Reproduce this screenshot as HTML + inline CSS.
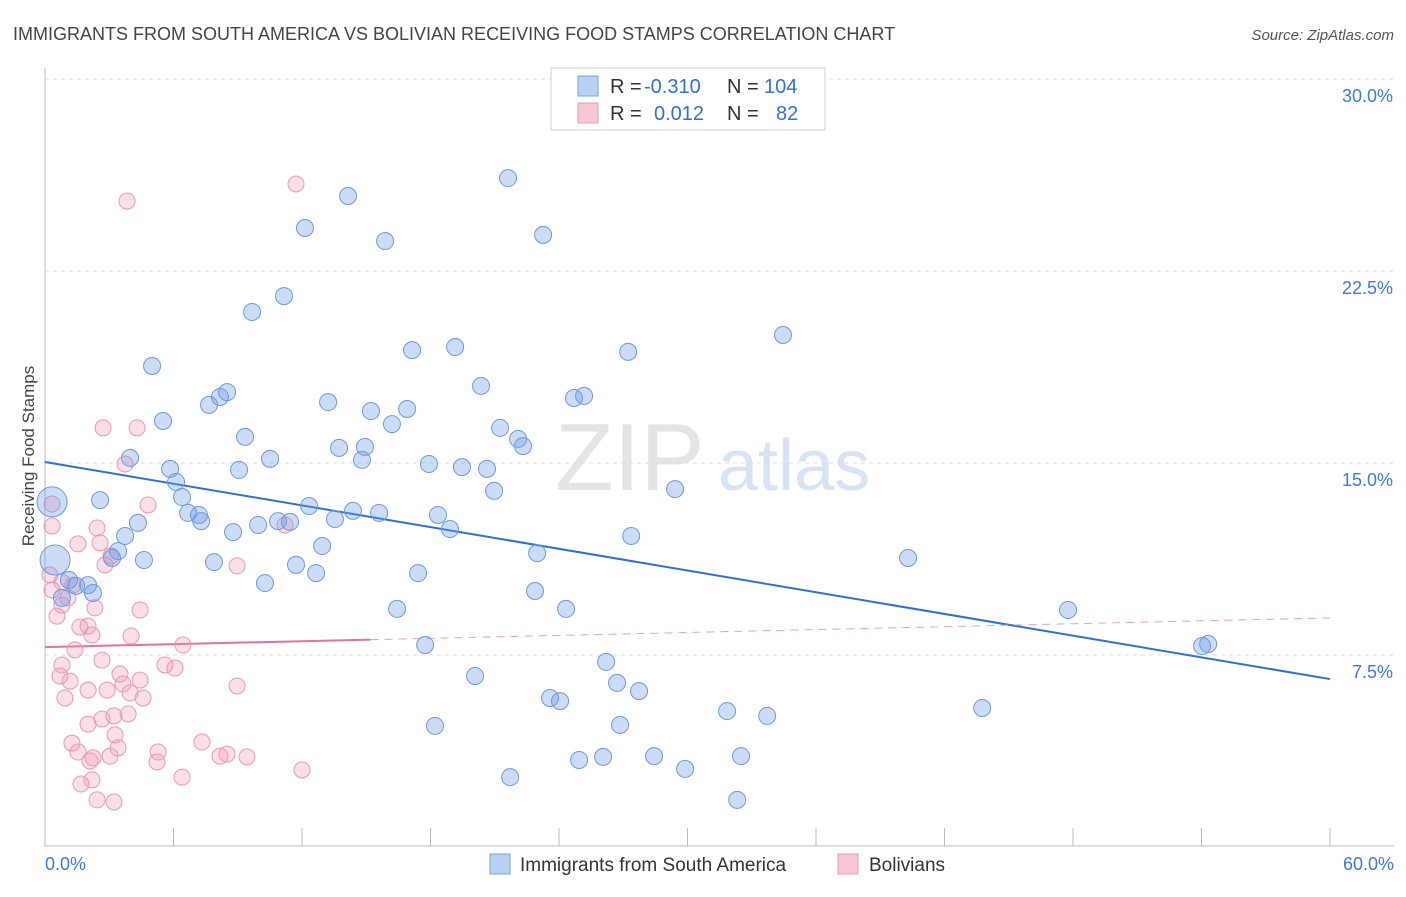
<!DOCTYPE html>
<html><head><meta charset="utf-8"><style>
body{margin:0;background:#fff;font-family:"Liberation Sans",sans-serif;}
svg text{font-family:"Liberation Sans",sans-serif;}
</style></head><body>
<svg id="chart" width="1406" height="892" viewBox="0 0 1406 892" xmlns="http://www.w3.org/2000/svg">
<text x="13" y="40" font-size="18" fill="#444">IMMIGRANTS FROM SOUTH AMERICA VS BOLIVIAN RECEIVING FOOD STAMPS CORRELATION CHART</text>
<text x="1394" y="40" font-size="15" fill="#555" font-style="italic" text-anchor="end">Source: ZipAtlas.com</text>
<text transform="translate(34,456) rotate(-90)" font-size="17" fill="#444" text-anchor="middle">Receiving Food Stamps</text>
<g>
<text x="555" y="490" font-size="96" fill="#e4e4e4" font-family="Liberation Serif, serif">ZIP</text>
<text x="718" y="490" font-size="72" fill="#d6e3f5">atlas</text>
</g>
<g id="grid"></g><g id="axes"></g><g id="trends"></g><g id="points"></g>
<g>
<rect x="551" y="68" width="274" height="62" fill="#fff" stroke="#ccc"/>
<rect x="578" y="76" width="20" height="20" fill="#b8d0f3" stroke="#7aa5e6"/>
<rect x="578" y="103" width="20" height="20" fill="#f8c6d5" stroke="#ea9ab6"/>
<text x="610" y="93" font-size="20" fill="#333">R =</text>
<text x="644" y="93" font-size="20" fill="#2f6fd6">-0.310</text>
<text x="727" y="93" font-size="20" fill="#333">N =</text>
<text x="764" y="93" font-size="20" fill="#2f6fd6">104</text>
<text x="610" y="120" font-size="20" fill="#333">R =</text>
<text x="654" y="120" font-size="20" fill="#2f6fd6">0.012</text>
<text x="727" y="120" font-size="20" fill="#333">N =</text>
<text x="776" y="120" font-size="20" fill="#2f6fd6">82</text>
</g>
<g>
<rect x="490" y="854" width="20" height="20" fill="#b8d0f3" stroke="#7aa5e6"/>
<text x="520" y="871" font-size="19" fill="#333">Immigrants from South America</text>
<rect x="838" y="854" width="20" height="20" fill="#f8c6d5" stroke="#ea9ab6"/>
<text x="869" y="871" font-size="19" fill="#333">Bolivians</text>
</g>
</svg>
<script>
const blueX=[21.62,14.15,12.14,15.88,23.26,11.16,9.67,34.46,17.14,19.15,27.23,5.0,20.36,8.5,8.17,7.66,13.22,15.22,16.91,24.7,25.17,5.51,16.2,21.25,9.34,22.09,13.73,14.94,22.32,3.97,10.51,14.8,17.93,19.47,20.64,5.84,9.06,6.12,20.97,29.42,2.57,6.4,12.33,6.68,14.38,15.6,18.35,7.19,7.29,13.54,4.34,10.88,11.44,9.95,8.78,18.91,3.74,27.37,12.94,3.41,22.98,4.62,3.13,7.89,11.72,12.66,40.3,17.42,1.12,2.01,10.27,1.45,22.88,2.24,0.79,16.44,24.33,47.77,17.75,54.03,54.31,26.2,20.08,26.71,27.74,23.58,24.05,31.85,33.72,43.76,18.21,26.85,28.44,32.5,24.94,26.06,29.89,21.72,32.32];
const blueY=[26.13,25.43,24.18,23.67,23.91,21.52,20.9,20.0,19.41,19.53,19.34,18.79,18.01,17.77,17.58,17.27,17.38,17.03,17.11,17.54,17.62,16.64,16.52,16.37,16.02,15.94,15.59,15.63,15.66,15.2,15.16,15.12,14.96,14.84,14.77,14.77,14.73,14.26,13.91,13.98,13.55,13.67,13.32,13.05,13.13,13.05,12.97,12.97,12.73,12.81,12.66,12.73,12.7,12.58,12.3,12.42,12.15,12.15,11.76,11.56,11.48,11.21,11.29,11.13,11.02,10.7,11.29,10.7,10.43,10.23,10.31,10.2,10.0,9.92,9.73,9.3,9.3,9.26,7.89,7.85,7.93,7.23,6.68,6.41,6.09,5.82,5.7,5.31,5.12,5.43,4.73,4.77,3.55,3.55,3.4,3.52,3.05,2.73,1.84];
const blueBigX=[0.33,0.47];
const blueBigY=[13.48,11.21];
const pinkX=[11.72,3.83,2.71,4.3,3.74,4.81,0.33,0.33,2.43,2.57,1.54,11.21,3.08,2.8,8.97,0.23,0.79,0.33,1.31,1.07,0.79,2.33,0.56,4.44,1.63,2.01,2.19,4.02,6.44,1.4,0.79,2.66,0.7,5.6,6.07,3.5,4.44,1.17,3.64,8.97,2.01,2.9,3.97,4.58,0.93,3.22,3.88,2.66,2.01,3.27,1.26,7.33,3.41,5.28,1.54,2.24,3.04,2.1,8.5,9.43,8.17,5.23,6.4,12.0,2.19,1.68,2.43,3.22];
const pinkY=[25.9,25.23,16.37,16.37,14.96,13.36,13.4,12.54,12.46,11.88,11.84,12.58,11.37,11.02,10.98,10.63,10.35,10.04,10.23,9.73,9.45,9.34,9.02,9.26,8.59,8.63,8.28,8.24,7.89,7.7,7.11,7.3,6.68,7.11,6.99,6.76,6.52,6.48,6.37,6.29,6.13,6.13,6.02,5.82,5.82,5.12,5.2,5.0,4.8,4.38,4.06,4.1,3.87,3.71,3.71,3.48,3.55,3.36,3.63,3.52,3.55,3.32,2.73,3.01,2.62,2.46,1.84,1.76];
const blueTrend=[15.04,6.56];
const pinkTrend=[7.81,8.95];
const pinkSolidEnd=15.2;
const yTicks=[7.5,15,22.5,30];
const xTickVals=[0,6,12,18,24,30,36,42,48,54,60];

const NS='http://www.w3.org/2000/svg';
const X=v=>45+v/60*1285;
const Y=v=>847-v*25.6;
function mk(tag,attrs,parent){const e=document.createElementNS(NS,tag);for(const k in attrs)e.setAttribute(k,attrs[k]);parent.appendChild(e);return e;}
const grid=document.getElementById('grid'),axes=document.getElementById('axes'),trends=document.getElementById('trends'),pts=document.getElementById('points');
yTicks.forEach(t=>{
 const l=mk('line',{x1:45,x2:1394,y1:Y(t),y2:Y(t),stroke:'#ddd','stroke-dasharray':'4,4'},grid);
 
 
 const tx=mk('text',{x:1393,y:Y(t)+23,'font-size':18,fill:'#3d7ad8','text-anchor':'end'},axes);
 tx.textContent=t.toFixed(1)+'%';
 
 
});
const al=mk('line',{x1:45,x2:45,y1:68,y2:847,stroke:'#bbb'},axes);


const bl=mk('line',{x1:45,x2:1394,y1:846,y2:846,stroke:'#bbb'},axes);


xTickVals.forEach(t=>{
 const l=mk('line',{x1:X(t),x2:X(t),y1:828,y2:846,stroke:'#bbb'},axes);
 
 
});
[[0,'start',45],[60,'end',1394]].forEach(([v,a,px])=>{
 const tx=mk('text',{x:px,y:870,'font-size':18,fill:'#3d7ad8','text-anchor':a},axes);
 tx.textContent=v.toFixed(1)+'%';
 
 
});
const bt=mk('line',{x1:X(0),y1:Y(blueTrend[0]),x2:X(60),y2:Y(blueTrend[1]),stroke:'#2f6fd6','stroke-width':2},trends);


const pm=pinkTrend[0]+(pinkTrend[1]-pinkTrend[0])*pinkSolidEnd/60;
const ps=mk('line',{x1:X(0),y1:Y(pinkTrend[0]),x2:X(pinkSolidEnd),y2:Y(pm),stroke:'#e8709a','stroke-width':2},trends);


const pd=mk('line',{x1:X(pinkSolidEnd),y1:Y(pm),x2:X(60),y2:Y(pinkTrend[1]),stroke:'#e8a0ba','stroke-width':1,'stroke-dasharray':'8,6'},trends);


function dot(x,y,r,fill,stroke,name){
 const c=mk('circle',{cx:X(x),cy:Y(y),r:r,fill:fill,stroke:stroke,'stroke-width':1},pts);
 
 
}
const BF='rgba(110,155,225,0.35)',BS='#6b9ae0',PF='rgba(240,150,180,0.3)',PS='#e997b3';
pinkX.forEach((x,i)=>dot(x,pinkY[i],8,PF,PS,'bolivian-point'));
blueX.forEach((x,i)=>dot(x,blueY[i],8.5,BF,BS,'south-america-point'));
blueBigX.forEach((x,i)=>dot(x,blueBigY[i],15,BF,BS,'south-america-point-large'));
</script>
</body></html>
